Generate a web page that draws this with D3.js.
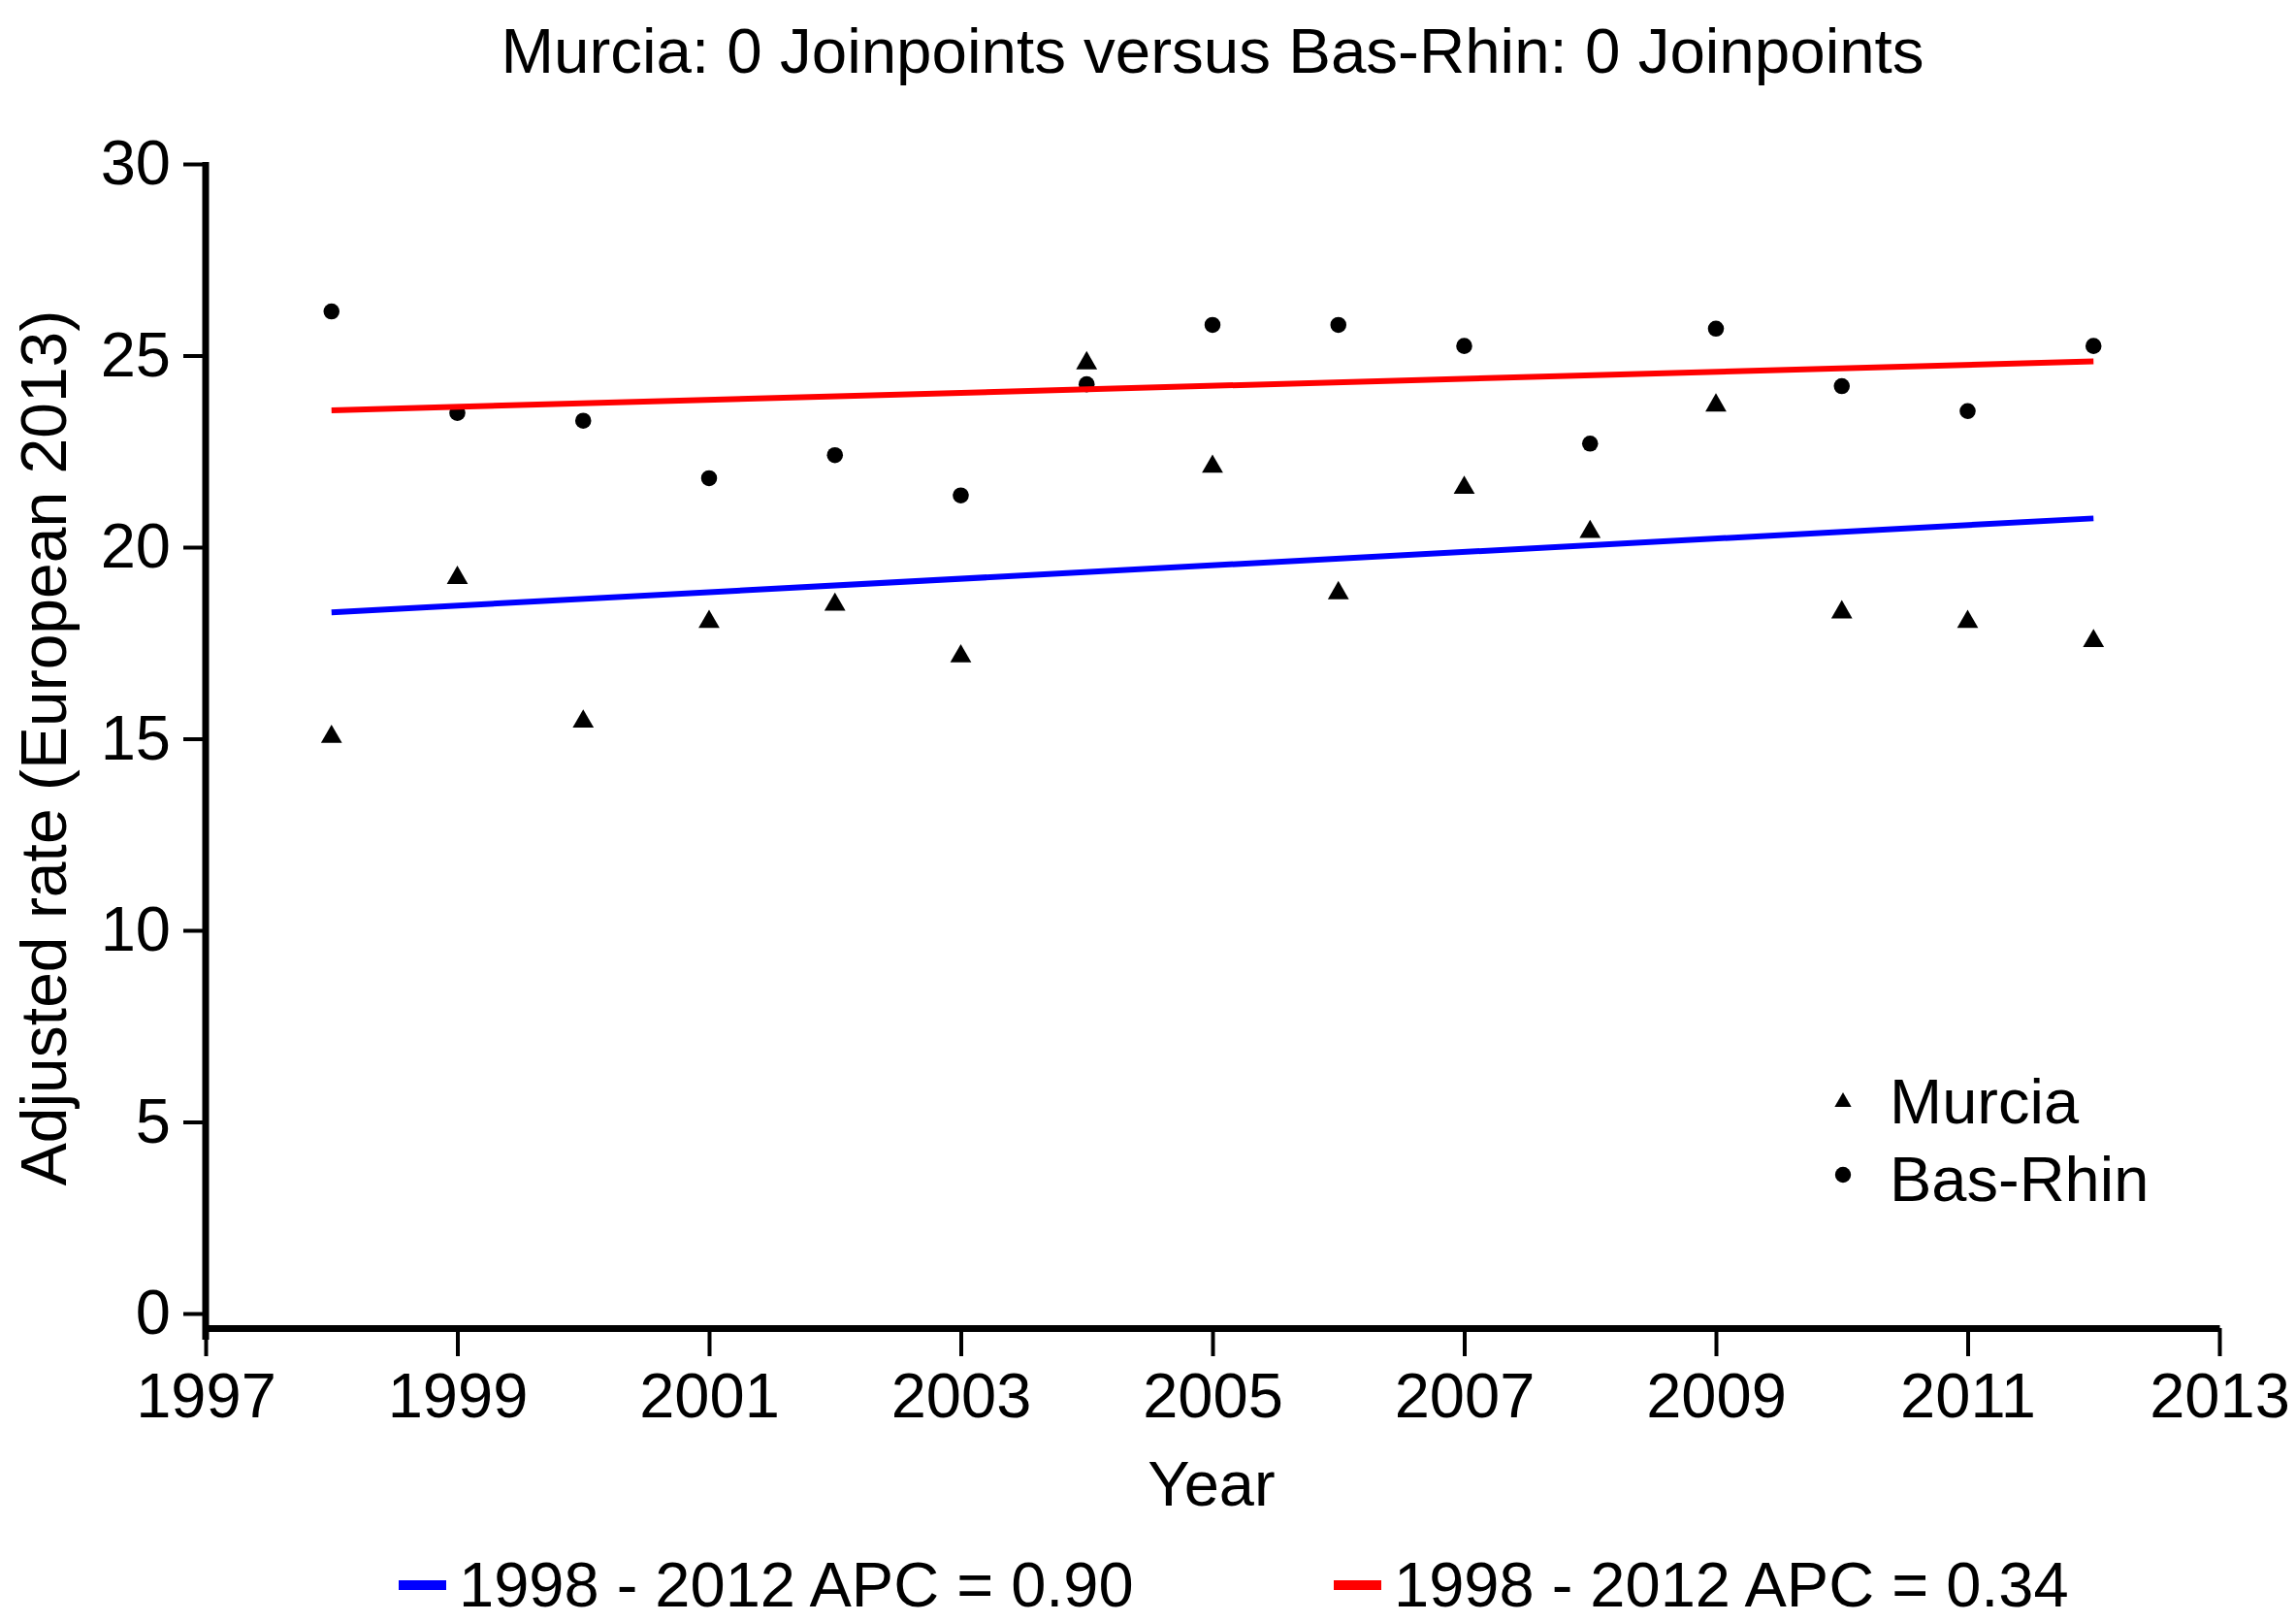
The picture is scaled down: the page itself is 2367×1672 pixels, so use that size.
<!DOCTYPE html>
<html>
<head>
<meta charset="utf-8">
<script src="https://cdn.jsdelivr.net/npm/d3@7"></script>
<style>
  body { margin: 0; background: #fff; }
  text { font-family: "Liberation Sans", Arial, sans-serif; fill: #000; }
</style>
</head>
<body>
<script>
// values
var years = [1998, 1999, 2000, 2001, 2002, 2003, 2004, 2005, 2006, 2007, 2008, 2009, 2010, 2011, 2012];
var murcia = [15.05, 19.2, 15.45, 18.05, 18.5, 17.15, 24.8, 22.1, 18.8, 21.55, 20.4, 23.7, 18.3, 18.05, 17.55];
var basRhin = [26.15, 23.5, 23.3, 21.8, 22.4, 21.35, 24.25, 25.8, 25.8, 25.25, 22.7, 25.7, 24.2, 23.55, 25.25];

// fitted segments (start, end)
var fitYears = [1998, 2012];
var murciaFit = [18.3, 20.75];
var basRhinFit = [23.57, 24.85];

var xTicks = [1997, 1999, 2001, 2003, 2005, 2007, 2009, 2011, 2013];
var yTicks = [0, 5, 10, 15, 20, 25, 30];
var seriesNames = ["Murcia", "Bas-Rhin"];
var fitLabels = ["1998 - 2012 APC = 0.90", "1998 - 2012 APC = 0.34"];

var W = 2367, H = 1672;
var fs = 65;

var svg = d3.select("body").append("svg")
    .attr("width", W)
    .attr("height", H);

var x = d3.scaleLinear().domain([1997, 2013]).range([212, 2288]);
var y = d3.scaleLinear().domain([0, 30]).range([1354, 169]);
var xAxisY = 1369;

// title
svg.append("text")
    .attr("x", 1250).attr("y", 75)
    .attr("text-anchor", "middle")
    .attr("font-size", 65.5)
    .text("Murcia: 0 Joinpoints versus Bas-Rhin: 0 Joinpoints");

// y axis
var yAxis = svg.append("g")
    .attr("transform", "translate(212,0)")
    .call(d3.axisLeft(y).tickValues(yTicks).tickSize(23).tickSizeOuter(0).tickPadding(13));
yAxis.select(".domain").remove();
yAxis.selectAll(".tick line").attr("stroke", "#000").attr("stroke-width", 4);
yAxis.selectAll(".tick text").attr("font-size", fs).attr("font-family", "Liberation Sans, Arial, sans-serif");

svg.append("line")
    .attr("x1", 212).attr("x2", 212)
    .attr("y1", y(30) - 2).attr("y2", xAxisY + 12)
    .attr("stroke", "#000").attr("stroke-width", 7);

// x axis
var xAxis = svg.append("g")
    .attr("transform", "translate(0," + xAxisY + ")")
    .call(d3.axisBottom(x).tickValues(xTicks).tickFormat(d3.format("d")).tickSize(29).tickSizeOuter(0).tickPadding(17));
xAxis.select(".domain").attr("stroke", "#000").attr("stroke-width", 7);
xAxis.selectAll(".tick line").attr("stroke", "#000").attr("stroke-width", 4);
xAxis.selectAll(".tick text").attr("font-size", fs).attr("font-family", "Liberation Sans, Arial, sans-serif");

// axis titles
svg.append("text")
    .attr("x", 1249).attr("y", 1552)
    .attr("text-anchor", "middle")
    .attr("font-size", fs)
    .text("Year");

svg.append("text")
    .attr("transform", "translate(68,771) rotate(-90)")
    .attr("text-anchor", "middle")
    .attr("font-size", 66)
    .text("Adjusted rate (European 2013)");

// points
var tri = d3.symbol().type(d3.symbolTriangle).size(205);
var dot = d3.symbol().type(d3.symbolCircle).size(215);

svg.append("g").selectAll("path")
    .data(years.map(function(d, i) { return [d, murcia[i]]; }))
    .enter().append("path")
    .attr("d", tri)
    .attr("transform", function(d) { return "translate(" + x(d[0]) + "," + y(d[1]) + ")"; })
    .attr("fill", "#000");

svg.append("g").selectAll("path")
    .data(years.map(function(d, i) { return [d, basRhin[i]]; }))
    .enter().append("path")
    .attr("d", dot)
    .attr("transform", function(d) { return "translate(" + x(d[0]) + "," + y(d[1]) + ")"; })
    .attr("fill", "#000");

// fit lines
var line = d3.line()
    .x(function(d) { return x(d[0]); })
    .y(function(d) { return y(d[1]); });

svg.append("path")
    .datum(fitYears.map(function(d, i) { return [d, murciaFit[i]]; }))
    .attr("d", line)
    .attr("fill", "none")
    .attr("stroke", "#0000ff")
    .attr("stroke-width", 6);

svg.append("path")
    .datum(fitYears.map(function(d, i) { return [d, basRhinFit[i]]; }))
    .attr("d", line)
    .attr("fill", "none")
    .attr("stroke", "#ff0000")
    .attr("stroke-width", 6);

// inner legend
var lg = svg.append("g");
lg.append("path").attr("d", d3.symbol().type(d3.symbolTriangle).size(130))
    .attr("transform", "translate(1900,1136)").attr("fill", "#000");
lg.append("path").attr("d", d3.symbol().type(d3.symbolCircle).size(210))
    .attr("transform", "translate(1900,1211)").attr("fill", "#000");
lg.selectAll("text")
    .data(seriesNames)
    .enter().append("text")
    .attr("x", 1948)
    .attr("y", function(d, i) { return 1158 + i * 80; })
    .attr("font-size", fs)
    .text(function(d) { return d; });

// bottom legend
var fitColors = ["#0000ff", "#ff0000"];
var legX = [411, 1375];
var bl = svg.append("g");
bl.selectAll("rect")
    .data(fitLabels)
    .enter().append("rect")
    .attr("x", function(d, i) { return legX[i]; })
    .attr("y", 1629)
    .attr("width", 49)
    .attr("height", 10)
    .attr("fill", function(d, i) { return fitColors[i]; });
bl.selectAll("text")
    .data(fitLabels)
    .enter().append("text")
    .attr("x", function(d, i) { return legX[i] + 62; })
    .attr("y", 1656)
    .attr("font-size", fs)
    .text(function(d) { return d; });
</script>
</body>
</html>
